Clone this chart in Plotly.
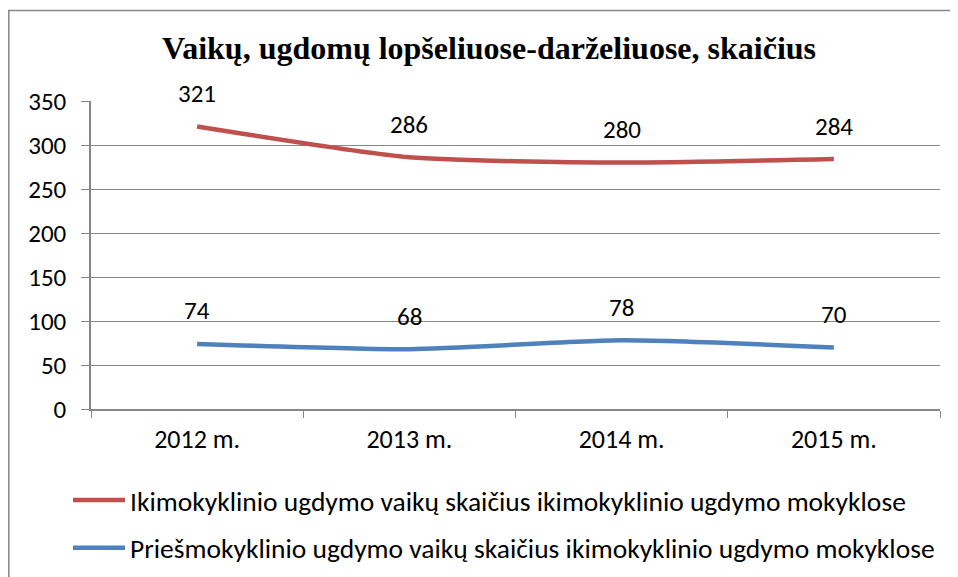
import plotly.graph_objects as go

categories = ["2012 m.", "2013 m.", "2014 m.", "2015 m."]
ikimok = [321, 286, 280, 284]
priesmok = [74, 68, 78, 70]
series_names = [
    "Ikimokyklinio ugdymo vaikų skaičius ikimokyklinio ugdymo mokyklose",
    "Priešmokyklinio ugdymo vaikų skaičius ikimokyklinio ugdymo mokyklose",
]
y_ticks = [0, 50, 100, 150, 200, 250, 300, 350]

FONT = "Carlito, 'Liberation Sans Narrow', Roboto, sans-serif"
# page has an 8px body margin; figure coords = page coords - 8
W, H = 950, 577
L, R, T, B = 83, 18, 93, 174
pw, ph = W - L - R, H - T - B

fig = go.Figure()
colors = ["#C0504D", "#4F81BD"]
for i, (name, vals) in enumerate(zip(series_names, [ikimok, priesmok])):
    fig.add_trace(go.Scatter(
        x=categories, y=vals, name=name, mode="lines",
        line=dict(color=colors[i], width=4.5, shape="spline", smoothing=0.6),
        legendgroup=str(i), hoverinfo="skip",
    ))
    for c, v in zip(categories, vals):
        fig.add_annotation(x=c, y=v, text=str(v), showarrow=False,
                           yshift=33, font=dict(family=FONT, size=25, color="#000"))

# chart frame (left and top edges visible)
fig.add_shape(type="rect", xref="paper", yref="paper",
              x0=(0.8 - L) / pw, x1=(W + 20 - L) / pw,
              y0=-(H + 20 - T - ph) / ph, y1=1 + (T - 2) / ph,
              line=dict(color="#868686", width=1.5), layer="below")

fig.update_layout(
    width=W, height=H,
    margin=dict(l=L, r=R, t=T, b=B),
    paper_bgcolor="white", plot_bgcolor="white",
    title=dict(text="<b>Vaikų, ugdomų lopšeliuose-darželiuose, skaičius</b>",
               x=481 / W, xanchor="center", xref="container",
               y=1 - 40 / H, yanchor="middle", yref="container",
               font=dict(family="'Liberation Serif', 'Times New Roman', serif", size=32, color="#000")),
    xaxis=dict(type="category", range=[-0.5, 3.5], showgrid=False,
               showline=True, linecolor="#868686", linewidth=1.5,
               ticks="outside", tickson="boundaries", ticklen=7, tickcolor="#868686",
               tickfont=dict(family=FONT, size=26, color="#000"), ticklabelstandoff=6),
    yaxis=dict(range=[0, 350], tickvals=y_ticks, showgrid=True, gridcolor="#868686",
               gridwidth=1.2, showline=True, linecolor="#868686", linewidth=1.5,
               ticks="outside", ticklen=8, tickcolor="#868686", ticklabelstandoff=10,
               tickfont=dict(family=FONT, size=25, color="#000"), zeroline=False),
    showlegend=True,
    legend=dict(orientation="v", x=(60 - L) / pw, xanchor="left",
                y=-(470 - T - ph) / ph, yanchor="top", traceorder="grouped",
                tracegroupgap=9, itemwidth=52,
                font=dict(family=FONT, size=27.5, color="#000"),
                bgcolor="rgba(0,0,0,0)"),
)

fig.write_html("out.html")
